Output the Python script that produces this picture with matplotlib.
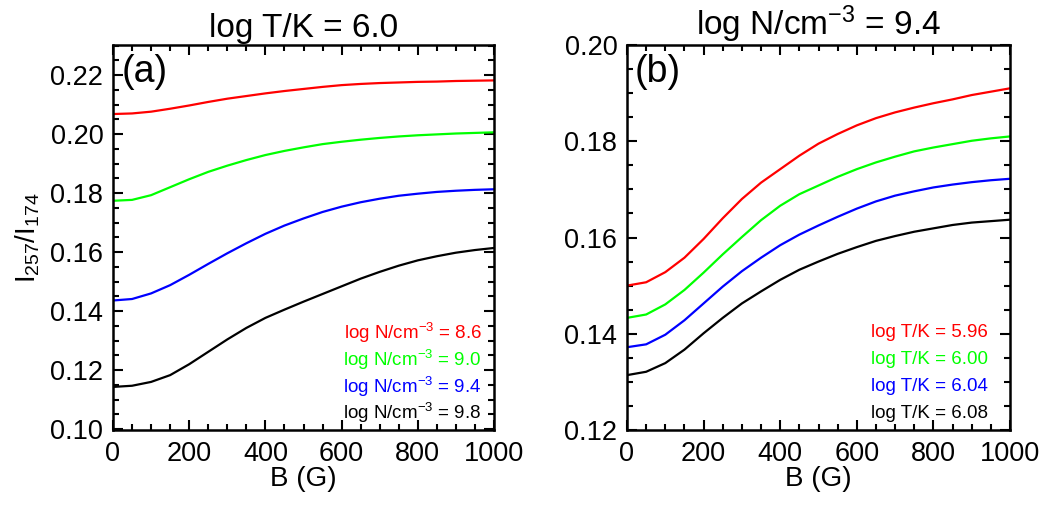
import matplotlib
matplotlib.use("Agg")
import matplotlib.pyplot as plt
from matplotlib.ticker import MultipleLocator

plt.rcParams['font.family'] = ['Liberation Sans', 'DejaVu Sans']
plt.rcParams['mathtext.fontset'] = 'custom'
plt.rcParams['mathtext.rm'] = 'Liberation Sans'
plt.rcParams['mathtext.it'] = 'Liberation Sans:italic'
plt.rcParams['mathtext.bf'] = 'Liberation Sans:bold'

B = [0, 50, 100, 150, 200, 250, 300, 350, 400, 450, 500,
     550, 600, 650, 700, 750, 800, 850, 900, 950, 1000]

# Panel (a): log T/K = 6.0, different densities
a_n86 = [0.2068, 0.2070, 0.2076, 0.2086, 0.2097, 0.2109, 0.2120, 0.2129, 0.2138, 0.2146, 0.2153,
         0.2160, 0.2166, 0.2170, 0.2173, 0.2175, 0.2177, 0.2178, 0.2180, 0.2181, 0.2182]
a_n90 = [0.1774, 0.1777, 0.1793, 0.1820, 0.1847, 0.1872, 0.1893, 0.1912, 0.1929, 0.1943, 0.1955,
         0.1966, 0.1974, 0.1981, 0.1987, 0.1992, 0.1996, 0.1999, 0.2002, 0.2004, 0.2006]
a_n94 = [0.1436, 0.1441, 0.1460, 0.1488, 0.1523, 0.1560, 0.1596, 0.1630, 0.1662, 0.1690, 0.1714,
         0.1736, 0.1754, 0.1769, 0.1781, 0.1791, 0.1798, 0.1804, 0.1808, 0.1811, 0.1813]
a_n98 = [0.1143, 0.1147, 0.1160, 0.1183, 0.1220, 0.1262, 0.1304, 0.1343, 0.1377, 0.1405, 0.1432,
         0.1458, 0.1484, 0.1510, 0.1533, 0.1554, 0.1572, 0.1586, 0.1598, 0.1607, 0.1614]

# Panel (b): log N/cm^-3 = 9.4, different temperatures
b_t596 = [0.1500, 0.1507, 0.1528, 0.1558, 0.1597, 0.1640, 0.1680, 0.1714, 0.1742, 0.1770, 0.1795,
          0.1815, 0.1833, 0.1848, 0.1860, 0.1870, 0.1879, 0.1887, 0.1896, 0.1903, 0.1910]
b_t600 = [0.1433, 0.1440, 0.1461, 0.1491, 0.1527, 0.1565, 0.1601, 0.1636, 0.1666, 0.1690, 0.1708,
          0.1726, 0.1742, 0.1756, 0.1768, 0.1779, 0.1787, 0.1794, 0.1801, 0.1806, 0.1810]
b_t604 = [0.1372, 0.1378, 0.1398, 0.1428, 0.1463, 0.1498, 0.1530, 0.1558, 0.1584, 0.1606, 0.1625,
          0.1643, 0.1660, 0.1675, 0.1687, 0.1696, 0.1704, 0.1710, 0.1715, 0.1719, 0.1722]
b_t608 = [0.1314, 0.1321, 0.1339, 0.1367, 0.1401, 0.1433, 0.1463, 0.1488, 0.1512, 0.1533, 0.1550,
          0.1566, 0.1580, 0.1593, 0.1603, 0.1612, 0.1619, 0.1626, 0.1631, 0.1634, 0.1637]

colors = ['#ff0000', '#00ff00', '#0000ff', '#000000']
a_labels = ['log N/cm$^{-3}$ = 8.6', 'log N/cm$^{-3}$ = 9.0',
            'log N/cm$^{-3}$ = 9.4', 'log N/cm$^{-3}$ = 9.8']
b_labels = ['log T/K = 5.96', 'log T/K = 6.00', 'log T/K = 6.04', 'log T/K = 6.08']

fig = plt.figure(figsize=(10.42, 5.09), dpi=100)
axa = fig.add_axes([113/1042, 1-430/509, 381/1042, 385/509])
axb = fig.add_axes([627/1042, 1-430/509, 383/1042, 385/509])

def style(ax, ylim, major_y):
    ax.set_xlim(0, 1000)
    ax.set_ylim(*ylim)
    ax.xaxis.set_major_locator(MultipleLocator(200))
    ax.xaxis.set_minor_locator(MultipleLocator(50))
    ax.yaxis.set_major_locator(MultipleLocator(major_y))
    ax.yaxis.set_minor_locator(MultipleLocator(0.005))
    ax.yaxis.set_major_formatter(matplotlib.ticker.FormatStrFormatter('%.2f'))
    ax.tick_params(which='both', direction='in', top=True, right=True, width=1.5,
                   labelsize=19.5)
    ax.tick_params(which='major', length=7)
    ax.tick_params(which='minor', length=4)
    ax.tick_params(axis='x', pad=8)
    ax.tick_params(axis='y', pad=7)
    for s in ax.spines.values():
        s.set_linewidth(1.8)
    ax.set_xlabel('B (G)', fontsize=20, labelpad=-1)

ys = 0.252
dy = 0.0695
for vals, c, lab, i in zip([a_n86, a_n90, a_n94, a_n98], colors, a_labels, range(4)):
    axa.plot(B, vals, color=c, lw=1.6)
    axa.text(0.968, ys - i*dy, lab, color=c, fontsize=13.5, ha='right', va='center',
             transform=axa.transAxes)
for vals, c, lab, i in zip([b_t596, b_t600, b_t604, b_t608], colors, b_labels, range(4)):
    axb.plot(B, vals, color=c, lw=1.6)
    axb.text(0.943, ys - i*dy, lab, color=c, fontsize=13.5, ha='right', va='center',
             transform=axb.transAxes)

style(axa, (0.0997, 0.2302), 0.02)
style(axb, (0.12, 0.20), 0.02)

axa.set_title('log T/K = 6.0', fontsize=24, pad=6)
axb.set_title('log N/cm$^{-3}$ = 9.4', fontsize=24, pad=6)
axa.set_ylabel('I$_{257}$/I$_{174}$', fontsize=20, labelpad=6)

axa.text(0.022, 0.93, '(a)', fontsize=27, ha='left', va='center', transform=axa.transAxes)
axb.text(0.02, 0.93, '(b)', fontsize=27, ha='left', va='center', transform=axb.transAxes)

fig.savefig('out.png', dpi=100)
